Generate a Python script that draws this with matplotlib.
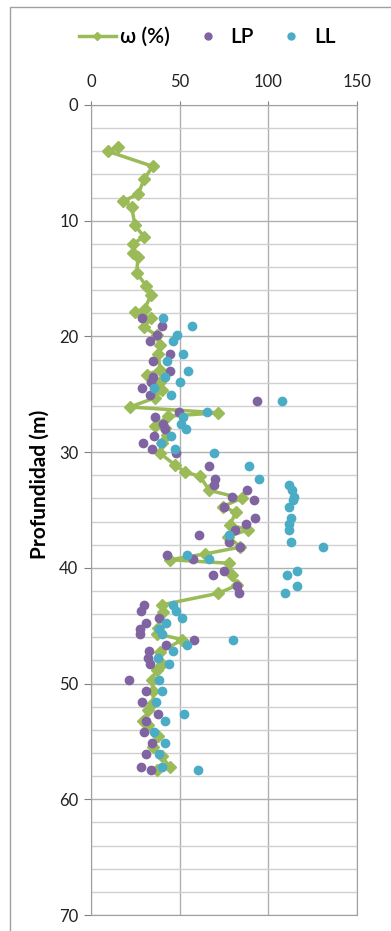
import matplotlib
matplotlib.use('Agg')
import matplotlib.pyplot as plt
from matplotlib.lines import Line2D
from matplotlib.patches import Rectangle

plt.rcParams['font.family'] = ['Lato', 'DejaVu Sans']

# humedad natural w (%) vs profundidad (m)
w_depth = [3.6, 4.0, 5.3, 6.4, 7.7, 8.3, 8.8, 10.4, 11.4, 12.0, 12.8, 13.1, 14.5,
           15.6, 16.4, 17.6, 17.9, 18.4, 19.2, 19.9, 20.7, 21.5, 22.9, 23.3, 23.9,
           24.6, 25.3, 26.1, 26.6, 26.9, 27.7, 27.9, 28.5, 29.2, 30.1, 31.1, 31.7,
           32.1, 33.3, 34.0, 34.7, 35.2, 36.3, 36.7, 37.3, 38.2, 38.8, 39.3, 39.6,
           40.6, 41.5, 42.2, 43.2, 43.8, 45.2, 45.7, 46.2, 47.3, 48.3, 48.8, 49.7,
           50.6, 51.7, 52.3, 53.2, 53.6, 54.5, 55.5, 56.3, 57.2, 57.5]
w_val = [15.4, 9.4, 34.8, 30.0, 26.6, 18.2, 22.9, 24.8, 30.0, 23.5, 23.8, 26.6, 25.7,
         31.0, 33.8, 30.4, 24.8, 33.8, 30.0, 37.0, 38.9, 37.9, 38.9, 31.4, 38.9,
         39.8, 36.1, 22.0, 71.7, 43.5, 36.1, 41.7, 42.6, 39.8, 38.9, 47.3, 53.0,
         61.4, 66.8, 84.9, 74.2, 81.7, 78.3, 88.6, 77.4, 84.3, 64.2, 44.5, 77.7,
         79.3, 82.4, 71.7, 39.8, 40.7, 37.9, 37.0, 51.5, 38.9, 39.8, 37.0, 34.2,
         35.1, 35.1, 32.3, 29.5, 32.3, 37.9, 35.1, 39.8, 44.5, 37.0]

# limites de Atterberg
lim_depth = [18.4, 19.1, 19.9, 20.4, 21.5, 22.1, 23.0, 23.5, 23.9, 24.5, 25.1, 25.6,
             26.5, 27.0, 27.6, 28.0, 28.6, 29.2, 29.7, 30.1, 31.2, 32.3, 32.8, 33.3,
             33.9, 34.1, 34.7, 35.7, 36.2, 36.7, 37.2, 37.8, 38.2, 38.9, 39.2, 40.3,
             40.6, 41.6, 42.2, 43.2, 43.7, 44.3, 44.8, 45.3, 45.7, 46.2, 46.7, 47.2,
             47.8, 48.3, 49.7, 50.6, 51.6, 52.6, 53.2, 54.2, 55.1, 56.1, 57.2, 57.5]
lp_val = [28.8, 39.8, 37.0, 33.2, 44.5, 34.8, 44.5, 35.1, 33.8, 28.9, 33.2, 93.8,
          49.5, 35.9, 40.7, 41.9, 35.3, 29.5, 34.2, 47.8, 66.3, 69.9, 69.1, 87.9,
          79.7, 91.7, 75.0, 92.6, 87.3, 81.1, 61.0, 77.7, 83.9, 42.6, 57.3, 75.0,
          68.6, 82.5, 83.5, 30.1, 28.3, 38.4, 30.8, 27.7, 27.6, 57.9, 42.3, 32.7,
          32.1, 33.2, 21.6, 30.8, 28.6, 37.9, 31.2, 29.7, 34.5, 31.2, 28.2, 33.8]
ll_val = [40.7, 56.7, 48.3, 46.4, 52.0, 42.6, 54.5, 41.7, 50.1, 35.5, 45.1, 107.9,
          65.6, 52.1, 50.7, 53.5, 45.1, 39.4, 47.1, 69.3, 89.0, 94.8, 111.7, 113.5,
          114.4, 113.8, 111.7, 112.6, 111.7, 111.7, 77.9, 112.6, 130.9, 54.1, 66.6, 116.2,
          110.4, 116.2, 109.3, 46.4, 48.0, 51.3, 42.1, 38.6, 39.8, 80.2, 53.9, 46.0,
          37.7, 44.1, 38.3, 39.8, 36.8, 52.5, 41.7, 35.5, 41.9, 38.1, 39.8, 60.2]

green = '#9BBB59'
purple = '#8064A2'
cyan = '#4BACC6'

fig = plt.figure(figsize=(3.91, 9.31), dpi=100)
ax = fig.add_axes([91/391, 1 - 915/931, 266/391, 810/931])

ax.plot(w_val, w_depth, color=green, lw=2.5, marker='D', ms=6, zorder=3)
ax.plot(lp_val, lim_depth, ls='none', marker='o', ms=6, color=purple, zorder=4)
ax.plot(ll_val, lim_depth, ls='none', marker='o', ms=6, color=cyan, zorder=4)

ax.set_xlim(0, 150)
ax.set_ylim(70, 0)
ax.set_xticks([0, 50, 100, 150])
ax.set_yticks(range(0, 71, 10))
ax.set_yticks(range(0, 71, 2), minor=True)
ax.xaxis.tick_top()
ax.tick_params(axis='x', length=3, pad=8, labelsize=12, color='#808080', labelcolor='#222222')
ax.tick_params(axis='y', which='major', length=5, pad=4, labelsize=12, color='#808080',
               labelcolor='#222222')
ax.tick_params(axis='y', which='minor', length=0)
ax.grid(True, which='major', color='#B0B0B0', lw=1)
ax.grid(True, which='minor', axis='y', color='#D0D0D0', lw=1)
ax.set_axisbelow(True)
for s in ax.spines.values():
    s.set_color('#A0A0A0')

ax.set_ylabel('Profundidad (m)', fontsize=15, fontweight='bold')
ax.yaxis.set_label_coords(-0.155, 0.532)

# borde del grafico
fig.patches.append(Rectangle((10/391, -0.1), 1.2, 1.1 - 7/931, transform=fig.transFigure,
                             fill=False, ec='#A0A0A0', lw=1))

handles = [Line2D([], [], color=green, lw=2.5, marker='D', ms=4),
           Line2D([], [], color=purple, ls='none', marker='o', ms=5),
           Line2D([], [], color=cyan, ls='none', marker='o', ms=5)]
fig.legend(handles, ['ω (%)', 'LP', 'LL'], loc='center', bbox_to_anchor=(0.53, 1 - 37/931),
           ncol=3, frameon=False, handlelength=1.8, handletextpad=0.2,
           columnspacing=0.9, prop={'size': 15, 'weight': 'semibold'})

fig.savefig('out.png', dpi=100)
